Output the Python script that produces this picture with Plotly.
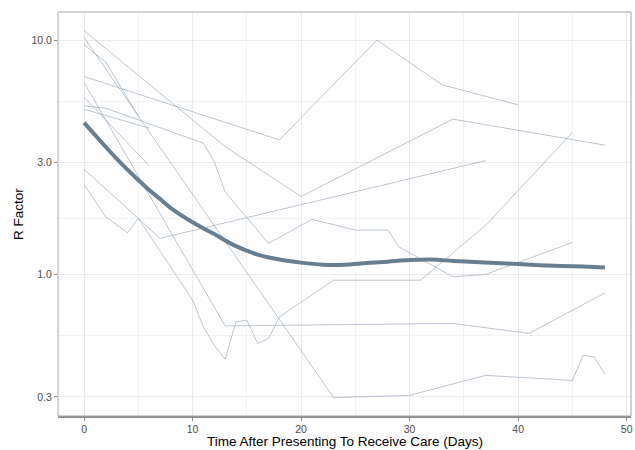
import plotly.graph_objects as go

# ---- data ----
patient_x = {
    "A": [0, 13, 20, 34, 48],
    "B": [0, 5],
    "C": [0, 2, 5, 23, 30, 37, 45, 46, 47, 48],
    "D": [0, 18, 27, 33, 40],
    "E": [0, 13, 34, 41, 48],
    "F": [0, 2, 11, 12, 13, 17, 21, 25, 28, 29, 34, 37, 45],
    "G": [0, 2, 4, 5, 7, 37],
    "H": [0, 5, 10, 11, 12, 13, 14, 15, 16, 17, 18, 23, 31, 37, 45],
    "K": [0, 6],
    "L": [0, 6],
}
patient_y = {
    "A": [10.96, 3.51, 2.15, 4.6, 3.56],
    "B": [10.26, 4.74],
    "C": [9.55, 8.05, 4.74, 0.298, 0.305, 0.371, 0.353, 0.452, 0.445, 0.375],
    "D": [6.99, 3.75, 10.0, 6.44, 5.29],
    "E": [6.59, 0.603, 0.618, 0.56, 0.834],
    "F": [5.24, 5.12, 3.63, 3.03, 2.25, 1.357, 1.718, 1.546, 1.546, 1.312, 0.977, 1.0, 1.37],
    "G": [2.42, 1.76, 1.505, 1.735, 1.425, 3.06],
    "H": [2.81, 1.735, 0.777, 0.597, 0.499, 0.435, 0.627, 0.638, 0.507, 0.533, 0.659, 0.945, 0.945, 1.62, 4.03],
    "K": [5.07, 4.21],
    "L": [5.71, 2.91],
}

smooth_x = [0, 1, 2, 3, 4, 5, 6, 7, 8, 10, 12, 14, 16, 18, 20, 22, 24, 26, 28, 30,
            32, 34, 36, 38, 40, 42, 44, 46, 48]
smooth_y = [4.44, 3.94, 3.50, 3.12, 2.80, 2.53, 2.29, 2.10, 1.92, 1.67, 1.486, 1.32,
            1.215, 1.157, 1.123, 1.101, 1.10, 1.118, 1.134, 1.151, 1.157, 1.142, 1.129,
            1.118, 1.107, 1.095, 1.087, 1.080, 1.071]

y_ticks = [0.3, 1, 3, 10]
y_ticktext = ["0.3", "1.0", "3.0", "10.0"]
y_minor = [0.5477, 1.732, 5.477]
x_ticks = [0, 10, 20, 30, 40, 50]
x_minor = [5, 15, 25, 35, 45]

x_title = "Time After Presenting To Receive Care (Days)"
y_title = "R Factor"

fig = go.Figure()
for pid in patient_x:
    fig.add_trace(go.Scatter(
        x=patient_x[pid], y=patient_y[pid], mode="lines",
        line=dict(color="rgba(125,145,168,0.52)", width=1),
        showlegend=False, hoverinfo="skip"))

fig.add_trace(go.Scatter(
    x=smooth_x, y=smooth_y, mode="lines", line_shape="spline",
    line=dict(color="#677F93", width=4), showlegend=False))

fig.update_layout(
    width=635, height=450,
    margin=dict(l=58, r=4, t=12, b=34, autoexpand=False),
    paper_bgcolor="white", plot_bgcolor="white",
    font=dict(family="Liberation Sans, Arial, sans-serif", color="black"),
    shapes=[dict(type="rect", xref="paper", yref="paper", x0=0, x1=1, y0=0, y1=1,
                 line=dict(color="#A8A8A8", width=1), layer="above")],
    annotations=[
        dict(text=x_title, xref="paper", yref="paper", x=0.5, y=-(441.5 - 416) / 404,
             xanchor="center", yanchor="middle", showarrow=False,
             font=dict(size=13.5, color="black")),
        dict(text=y_title, xref="paper", yref="paper", x=-(58 - 18) / 573, y=0.5,
             xanchor="center", yanchor="middle", showarrow=False, textangle=-90,
             font=dict(size=13.5, color="black")),
    ],
)
fig.update_xaxes(
    range=[-2.4, 50.4], tickvals=x_ticks, ticks="outside", ticklen=3,
    tickcolor="#8A8A8A", tickfont=dict(size=10.5, color="#4D4D4D"),
    showgrid=True, gridcolor="#EBEBEB", gridwidth=1,
    minor=dict(tickvals=x_minor, showgrid=True, gridcolor="#F3F3F3", gridwidth=1, ticklen=0),
    showline=True, linecolor="#8A8A8A", linewidth=1.5, zeroline=False,
    automargin=False,
)
fig.update_yaxes(
    type="log", range=[-0.604, 1.1197], tickvals=y_ticks, ticktext=y_ticktext,
    ticks="outside", ticklen=3, tickcolor="#8A8A8A",
    tickfont=dict(size=10.5, color="#4D4D4D"),
    showgrid=True, gridcolor="#EBEBEB", gridwidth=1,
    minor=dict(tickvals=y_minor, showgrid=True, gridcolor="#F3F3F3", gridwidth=1, ticklen=0),
    showline=False, zeroline=False, automargin=False,
)

fig.write_html(
    "out.html",
    config={"displayModeBar": False},
    post_script="document.body.style.margin='0';document.body.style.padding='0';",
)
